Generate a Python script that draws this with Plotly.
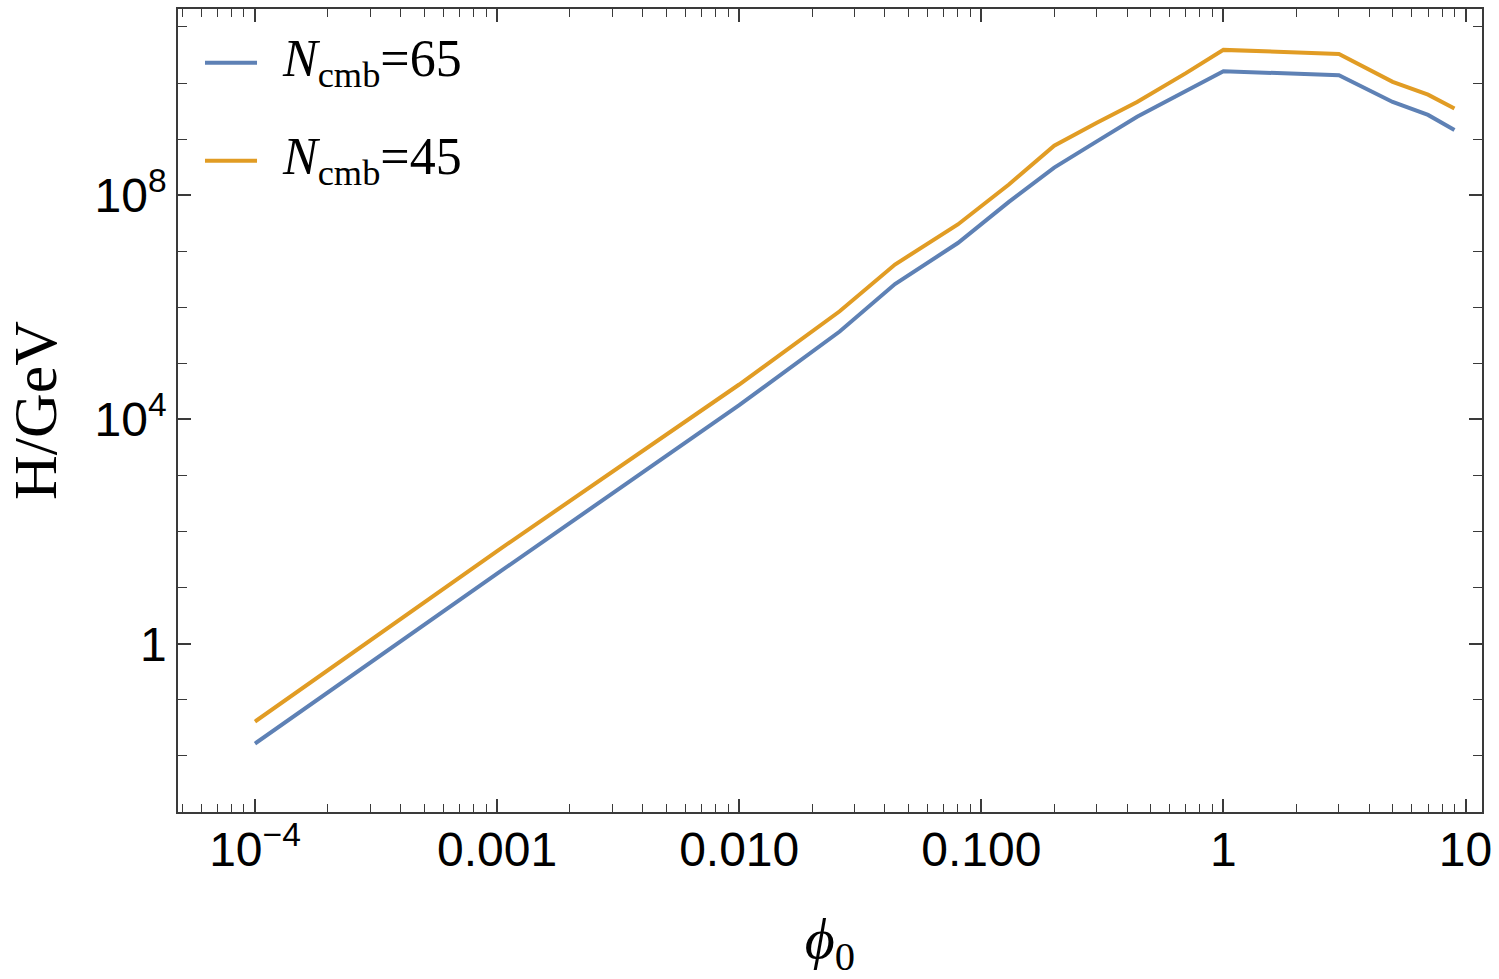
import plotly.graph_objects as go

# phi_0 sample points (shared by both curves)
phi0 = [1e-4, 1e-3, 1e-2, 0.026, 0.044, 0.08, 0.13, 0.2, 0.3, 0.44, 0.7, 1, 3, 5, 7, 9]

# H / GeV for the two e-fold choices
h_n65 = [0.0166, 17.8, 1.8e4, 3.7e5, 2.6e6, 1.4e7, 7.6e7, 3.1e8, 9.1e8, 2.5e9, 7.2e9,
         1.62e10, 1.38e10, 4.6e9, 2.7e9, 1.45e9]
h_n45 = [0.041, 45, 4.2e4, 8.5e5, 5.8e6, 3.0e7, 1.55e8, 7.6e8, 1.95e9, 4.6e9, 1.5e10,
         3.9e10, 3.3e10, 1.05e10, 6.2e9, 3.5e9]

series = [
    ("<i>N</i><sub>cmb</sub>=65", h_n65, "#5e81b5"),
    ("<i>N</i><sub>cmb</sub>=45", h_n45, "#e19c24"),
]

x_tickvals = [1e-4, 1e-3, 1e-2, 1e-1, 1, 10]
x_ticktext = ["10<sup>\u22124</sup>", "0.001", "0.010", "0.100", "1", "10"]
y_tickvals = [1, 1e4, 1e8]
y_ticktext = ["1", "10<sup>4</sup>", "10<sup>8</sup>"]

x_minor = [m * 10.0 ** e for e in range(-5, 1) for m in range(2, 10) if m * 10.0 ** e >= 5e-5]
y_minor = [10.0 ** e for e in range(-3, 12) if e not in (0, 4, 8)]

FRAME = "#3a3a3a"
SANS = "Liberation Sans, Arial, sans-serif"
SERIF = "Liberation Serif, Times New Roman, serif"

fig = go.Figure()
for name, vals, color in series:
    fig.add_trace(go.Scatter(
        x=phi0, y=vals, mode="lines", name=name,
        line=dict(color=color, width=4), showlegend=False,
    ))

# hand-built legend in the top-left corner of the frame
for i, (name, vals, color) in enumerate(series):
    yc = 0.933 - i * 0.122
    fig.add_shape(type="line", xref="paper", yref="paper",
                  x0=0.0207, x1=0.0606, y0=yc, y1=yc,
                  line=dict(color=color, width=4))
    fig.add_annotation(xref="paper", yref="paper", x=0.078, y=yc,
                       xanchor="left", yanchor="middle", showarrow=False,
                       text=name, font=dict(family=SERIF, size=52, color="black"))

axis_common = dict(
    type="log", showgrid=False, zeroline=False,
    showline=True, linecolor=FRAME, linewidth=1.5, mirror="allticks",
    ticks="inside", ticklen=13, tickwidth=1.5, tickcolor=FRAME,
    tickfont=dict(family=SANS, size=48, color="black"),
)

fig.update_xaxes(
    **axis_common, range=[-4.318, 1.068],
    tickmode="array", tickvals=x_tickvals, ticktext=x_ticktext,
    ticklabelstandoff=-5,
    minor=dict(tickmode="array", tickvals=x_minor, ticks="inside", ticklen=8,
               tickwidth=1.3, tickcolor=FRAME),
    title=dict(text="<i>\u03d5</i><sub>0</sub>", font=dict(family=SERIF, size=58, color="black"),
               standoff=44),
)
fig.update_yaxes(
    **axis_common, range=[-3.0, 11.32],
    tickmode="array", tickvals=y_tickvals, ticktext=y_ticktext,
    minor=dict(tickmode="array", tickvals=y_minor, ticks="inside", ticklen=9,
               tickwidth=1.3, tickcolor=FRAME),
    title=dict(text="H/GeV", font=dict(family=SERIF, size=62, color="black"), standoff=18),
)

fig.update_layout(
    width=1499, height=979,
    margin=dict(l=178, r=17, t=7, b=167),
    paper_bgcolor="white", plot_bgcolor="white",
    showlegend=False,
)

# drop the browser's default 8px body margin so the figure fills the window
fig.write_html("out.html", config={"displayModeBar": False},
               post_script="document.body.style.margin = '0';")
